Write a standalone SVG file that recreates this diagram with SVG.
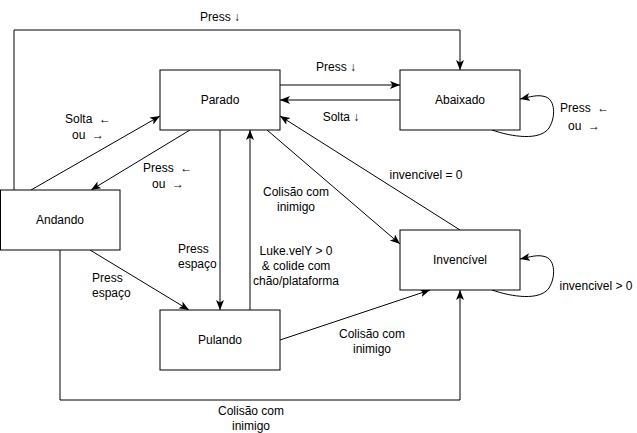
<svg xmlns="http://www.w3.org/2000/svg" width="637" height="433" viewBox="0 0 637 433">
<defs>
<marker id="arr" markerUnits="userSpaceOnUse" markerWidth="12" markerHeight="10" refX="10" refY="4" orient="auto">
<path d="M0,0 L10,4 L0,8 L2.5,4 Z" fill="#000"/>
</marker>
<style>
.node rect{fill:#fff;stroke:#000;stroke-width:1}
.node text{font-family:"Liberation Sans",Arial,sans-serif;font-size:12px;fill:#000;text-anchor:middle}
.edge{fill:none;stroke:#000;stroke-width:1;marker-end:url(#arr)}
.lbl{font-family:"Liberation Sans",Arial,sans-serif;font-size:12px;fill:#000;text-anchor:middle;white-space:pre}
.lbl.l{text-anchor:start}
</style>
</defs>
<rect width="637" height="433" fill="#fff"/>
<g id="connectors">
<path class="edge" d="M14,190 L14,30 L460,30 L460,70"/>
<path class="edge" d="M280,85 L400,85"/>
<path class="edge" d="M400,100 L280,100"/>
<path class="edge" d="M492,130 C512,137 540,141 549,128 C556,117 555,100 546,97 C538,94 530,97 520,99"/>
<path class="edge" d="M31,190 L160,116"/>
<path class="edge" d="M190,130 L91,190"/>
<path class="edge" d="M220,130 L220,310"/>
<path class="edge" d="M250,310 L250,130"/>
<path class="edge" d="M267,130 L400,244"/>
<path class="edge" d="M460,230 L280,116"/>
<path class="edge" d="M492,290 C512,297 540,301 549,288 C556,277 555,260 546,257 C538,254 530,257 520,259"/>
<path class="edge" d="M280,340 L430,290"/>
<path class="edge" d="M60,250 L60,400 L460,400 L460,290"/>
<path class="edge" d="M90,250 L189,310"/>
<text class="lbl" x="220" y="21">Press ↓</text>
<text class="lbl" x="336" y="71">Press ↓</text>
<text class="lbl" x="341" y="121">Solta ↓</text>
<text class="lbl l" x="560" y="112" xml:space="preserve">Press  ←</text>
<text class="lbl l" x="568" y="130" xml:space="preserve">ou  →</text>
<text class="lbl l" x="65" y="123" xml:space="preserve">Solta  ←</text>
<text class="lbl l" x="72" y="139" xml:space="preserve">ou  →</text>
<text class="lbl l" x="143" y="172" xml:space="preserve">Press  ←</text>
<text class="lbl l" x="152" y="188" xml:space="preserve">ou  →</text>
<text class="lbl l" x="178" y="253">Press</text>
<text class="lbl l" x="178" y="268">espaço</text>
<text class="lbl l" x="92" y="282">Press</text>
<text class="lbl l" x="92" y="297">espaço</text>
<text class="lbl" x="296" y="196">Colisão com</text>
<text class="lbl" x="296" y="211">inimigo</text>
<text class="lbl" x="426" y="179">invencivel = 0</text>
<text class="lbl" x="296" y="255">Luke.velY &gt; 0</text>
<text class="lbl" x="296" y="270">&amp; colide com</text>
<text class="lbl" x="296" y="285">chão/plataforma</text>
<text class="lbl" x="372" y="338">Colisão com</text>
<text class="lbl" x="372" y="353">inimigo</text>
<text class="lbl" x="251" y="415">Colisão com</text>
<text class="lbl" x="251" y="430">inimigo</text>
<text class="lbl" x="596" y="290">invencivel &gt; 0</text>
</g>
<g id="parado" class="node"><rect x="160" y="70" width="120" height="60"/><text x="220" y="104">Parado</text></g>
<g id="abaixado" class="node"><rect x="400" y="70" width="120" height="60"/><text x="460" y="104">Abaixado</text></g>
<g id="andando" class="node"><rect x="0.5" y="190" width="119.5" height="60"/><text x="60" y="224">Andando</text></g>
<g id="pulando" class="node"><rect x="160" y="310" width="120" height="60"/><text x="220" y="344">Pulando</text></g>
<g id="invencivel" class="node"><rect x="400" y="230" width="120" height="60"/><text x="460" y="264">Invencível</text></g>
</svg>
